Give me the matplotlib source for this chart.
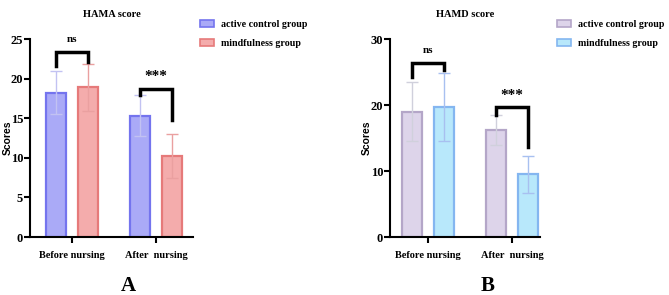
import matplotlib
matplotlib.use("Agg")
import matplotlib.pyplot as plt
import numpy as np
from matplotlib.patches import Patch

plt.rcParams['font.family'] = ['Liberation Serif', 'DejaVu Serif']
plt.rcParams['font.weight'] = 'bold'

groups = ["Before nursing", "After  nursing"]
series = ["active control group", "mindfulness group"]

hama_mean = {"active control group": [18.2, 15.3], "mindfulness group": [18.9, 10.2]}
hama_sd = {"active control group": [2.7, 2.6], "mindfulness group": [3.0, 2.8]}
hamd_mean = {"active control group": [19.0, 16.2], "mindfulness group": [19.7, 9.5]}
hamd_sd = {"active control group": [4.5, 2.3], "mindfulness group": [5.1, 2.8]}

fig = plt.figure(figsize=(6.69, 2.95), dpi=100)
W, H = 669, 295

def px_axes(l, r, b, t):
    return fig.add_axes([l / W, 1 - b / H, (r - l) / W, (b - t) / H])

def panel(ax, means, sds, colors, ylim, yticks, title, letter, letter_x,
          brackets, xlim, leg_x, ylab_x):
    x = np.arange(len(groups))
    off = 0.19
    w = 0.238
    for i, s in enumerate(series):
        fc, ec, errc = colors[i]
        pos = x + (i - 0.5) * 2 * off
        ax.bar(pos, means[s], width=w, color=fc, edgecolor=ec, linewidth=1.6, zorder=2)
        ax.errorbar(pos, means[s], yerr=sds[s], fmt='none', ecolor=errc,
                    elinewidth=1.0, capsize=4, capthick=1.0, zorder=3)
    ax.set_xlim(*xlim)
    ax.set_ylim(*ylim)
    ax.set_yticks(yticks)
    ax.set_xticks(x)
    ax.set_xticklabels(groups, fontsize=7.5, fontweight='bold')
    ax.tick_params(axis='both', direction='out', length=4, width=1.5)
    ax.tick_params(axis='x', pad=6)
    ax.tick_params(axis='y', pad=1)
    for lab in ax.get_yticklabels():
        lab.set_fontweight('bold')
        lab.set_fontsize(9)
    ax.spines['top'].set_visible(False)
    ax.spines['right'].set_visible(False)
    ax.spines['left'].set_linewidth(1.5)
    ax.spines['bottom'].set_linewidth(1.5)
    ax.set_ylabel("Scores", fontsize=7.5, fontweight='bold',
                  family=['Liberation Sans', 'DejaVu Sans'])
    ax.yaxis.set_label_coords(ylab_x, 0.5)
    ax.set_title(title, fontsize=7.5, fontweight='bold', pad=16)
    # brackets
    for (xa, xb, top, la, lb, txt, ty, tfs) in brackets:
        ax.plot([xa, xa, xb, xb], [la, top, top, lb], color='black', lw=2.5,
                solid_joinstyle='miter', zorder=4, clip_on=False)
        ax.text((xa + xb) / 2, ty, txt, ha='center', va='center', fontsize=tfs,
                fontweight='bold', clip_on=False)
    handles = [Patch(facecolor=colors[i][0], edgecolor=colors[i][1], linewidth=1.2)
               for i in range(2)]
    fig.legend(handles, series, loc='upper left', bbox_to_anchor=(leg_x / W, 1 - 20 / H),
               frameon=False, handlelength=1.4, handleheight=0.7,
               labelspacing=1.0, handletextpad=0.7, borderaxespad=0, borderpad=0,
               prop={'weight': 'bold', 'size': 7.2})
    fig.text(letter_x / W, 1 - 286 / H, letter, ha='center', va='center',
             fontsize=15, fontweight='bold')

axA = px_axes(30, 193, 237, 39)
colorsA = [("#aaaaf7", "#7474ee", "#c2c2f2"), ("#f4acac", "#e67a7a", "#eaa0a0")]
bx = 0.19
panel(axA, hama_mean, hama_sd, colorsA, (0, 25), [0, 5, 10, 15, 20, 25], "HAMA score", "A", 128,
      [(-bx, bx, 23.4, 21.6, 22.1, "ns", 25.0, 8),
       (1 - bx, 1 + bx, 18.7, 17.9, 14.8, "***", 20.3, 11)],
      (-0.5, 1.44), 200, -0.105)

axB = px_axes(390, 540, 237, 39)
colorsB = [("#ddd4ea", "#b4a6c8", "#d0d0dc"), ("#b8e8fb", "#84b6f0", "#a8c0f0")]
panel(axB, hamd_mean, hamd_sd, colorsB, (0, 30), [0, 10, 20, 30], "HAMD score", "B", 488,
      [(-bx, bx, 26.4, 24.2, 25.3, "ns", 28.3, 8),
       (1 - bx, 1 + bx, 19.7, 18.5, 13.6, "***", 21.5, 11)],
      (-0.45, 1.33), 557, -0.12)

fig.savefig("out.png", dpi=100)
